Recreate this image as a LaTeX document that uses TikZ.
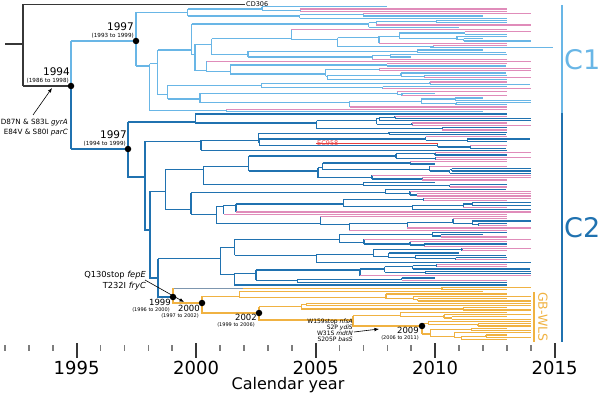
\documentclass[tikz,border=0pt]{standalone}
\usepackage{fontspec}
\setmainfont{DejaVu Sans}
\usetikzlibrary{arrows.meta}
\definecolor{cone}{RGB}{105,182,230}
\definecolor{ctwo}{RGB}{32,114,176}
\definecolor{cpink}{RGB}{224,140,186}
\definecolor{corange}{RGB}{240,178,66}
\definecolor{cred}{RGB}{232,64,64}
\definecolor{cblk}{RGB}{55,55,55}
\definecolor{cbg}{RGB}{125,150,175}
\definecolor{ctick}{RGB}{125,125,125}
\newcommand\fsz[1]{\fontsize{#1}{#1}\selectfont}
\newcommand\ysp{2.28}
\newcommand\yzero{4.5}
\tikzset{
  tree/.style={line width=1.25pt},
  dotnode/.style={circle,fill=black,inner sep=0pt,minimum size=6.5pt},
  yrbig/.style={anchor=east,inner sep=0pt,font=\fsz{10.5}},
  cibig/.style={anchor=east,inner sep=0pt,font=\fsz{5.6}},
  yrsmall/.style={anchor=east,inner sep=0pt,font=\fsz{8.5}},
  cismall/.style={anchor=east,inner sep=0pt,font=\fsz{5}},
  mutbig/.style={anchor=east,inner sep=0pt,font=\fsz{7.2}},
  mutmid/.style={anchor=east,inner sep=0pt,font=\fsz{8.3}},
  mutsmall/.style={anchor=east,inner sep=0pt,font=\fsz{6}},
  pointer/.style={line width=0.6pt,-{Latex[length=4.5pt,width=3.6pt]}},
  minortick/.style={ctick,line width=1.6pt},
  majortick/.style={cblk,line width=2pt},
}
% leaf of the random tree
\newcommand\cleaf{%
 \ifnum\clLO=61\relax
   \draw[tree,draw=cred] (\clPX,\clY) -- (316,\clY) node[anchor=west,inner sep=0.6pt,text=cred,font=\fsz{6.5}] (ec958) {EC958};
 \else
   \pgfmathsetmacro\clR{rnd}%
   \ifdim\clR pt<\clPink pt\relax
     \pgfmathsetmacro\clTX{rnd<0.55?507:531}%
     \def\clCol{cpink}%
   \else
     \pgfmathsetmacro\clTX{rnd<0.45?(rnd<0.6?507:531):(\clYrLo+23.9*floor(rnd*\clYrN))}%
     \pgfmathsetmacro\clLim{\clPX+12}%
     \ifdim\clTX pt<\clLim pt\relax\pgfmathsetmacro\clTX{rnd<0.5?507:531}\fi
     \let\clCol\clBase
   \fi
   \draw[tree,draw=\clCol] (\clPX,\clY) -- (\clTX,\clY);
 \fi}
% random clade: parent x, first leaf index, last leaf index
\newcommand\clade[3]{%
 \begingroup
 \edef\clPX{#1}\edef\clLO{#2}\edef\clHI{#3}%
 \pgfmathsetmacro\clY{\yzero+\ysp*(\clLO+\clHI)/2}%
 \ifnum\clLO=\clHI\relax
   \cleaf
 \else
   \pgfmathtruncatemacro\clN{\clHI-\clLO+1}%
   \pgfmathsetmacro\clNX{\clPX+(\clTmax-\clPX)*rnd*min(0.85,1.8/pow(\clN,0.7))}%
   \pgfmathtruncatemacro\clM{min(\clHI-1,\clLO+floor(rnd*(\clHI-\clLO)))}%
   \pgfmathtruncatemacro\clMp{\clM+1}%
   \pgfmathsetmacro\clYa{\yzero+\ysp*(\clLO+\clM)/2}%
   \pgfmathsetmacro\clYb{\yzero+\ysp*(\clMp+\clHI)/2}%
   \draw[tree,draw=\clBase] (\clPX,\clY) -- (\clNX,\clY) (\clNX,\clYa) -- (\clNX,\clYb);
   \clade{\clNX}{\clLO}{\clM}%
   \clade{\clNX}{\clMp}{\clHI}%
 \fi
 \endgroup}
\newcommand\setblue[2]{\def\clBase{#1}\def\clPink{#2}\def\clTmax{480}\def\clYrLo{363}\def\clYrN{8}}
\newcommand\setorange{\def\clBase{corange}\def\clPink{0}\def\clTmax{495}\def\clYrLo{483}\def\clYrN{3}}
\begin{document}
\begin{tikzpicture}[x=1pt,y=-1pt]
\useasboundingbox (0,0) rectangle (600,393);
\pgfmathsetseed{4242}
% ---------- root and backbone
\draw[tree,cblk] (5,44) -- (23,44);
\draw[tree,cblk] (23,4.5) -- (23,86);
\draw[tree,cblk] (23,4.5) -- (245,4.5) node[anchor=west,inner sep=0.6pt,text=black,font=\fsz{6.5}] (cd306) {CD306};
\draw[tree,cblk] (23,86) -- (71,86);
\draw[tree,cone] (71,41) -- (71,86);
\draw[tree,ctwo] (71,86) -- (71,149);
\draw[tree,cone] (71,41) -- (136,41);
\draw[tree,ctwo] (71,149) -- (128,149);
% ---------- C1
\draw[tree,cone] (136,12.48) -- (136,66.06);
\setblue{cone}{0.4}
\clade{136}{1}{6}
\clade{136}{7}{47}
\draw[tree,cone] (430,47.5) -- (553,47.5);
% ---------- C2
\setblue{ctwo}{0.55}
\draw[tree,ctwo] (128,121.92) -- (128,177) -- (145,177);
\clade{128}{48}{55}
\draw[tree,ctwo] (145,141.3) -- (145,230) -- (150,230);
\clade{145}{56}{64}
\draw[tree,ctwo] (150,191.46) -- (150,278) -- (158,278);
\clade{150}{65}{99}
\draw[tree,ctwo] (158,258.72) -- (158,297) -- (173,297);
\clade{158}{100}{123}
% ---------- GB-WLS
\setorange
\draw[tree,cbg] (173,288.36) -- (243,288.36);
\clade{243}{124}{125}
\draw[tree,corange] (173,288.36) -- (173,303) -- (202,303);
\draw[tree,corange] (202,296.34) -- (202,313) -- (259,313);
\clade{202}{126}{130}
\draw[tree,corange] (259,306.6) -- (259,320) -- (353,320);
\clade{259}{131}{134}
\draw[tree,corange] (353,315.72) -- (353,326) -- (422,326);
\clade{353}{135}{138}
\draw[tree,corange] (422,323.7) -- (422,334);
\clade{422}{139}{141}
\clade{422}{142}{147}
% ---------- dated nodes
\node[dotnode] (d1994) at (71,86) {};
\node[dotnode] (d1997a) at (136,41) {};
\node[dotnode] (d1997b) at (128,149) {};
\node[dotnode] (d1999) at (173,297) {};
\node[dotnode] (d2000) at (202,303) {};
\node[dotnode] (d2002) at (259,313) {};
\node[dotnode] (d2009) at (422,326) {};
\node[yrbig] (l1997a) at (134,27) {1997};
\node[cibig] (c1997a) at (134,35.8) {(1993 to 1999)};
\node[yrbig] (l1994) at (70,72) {1994};
\node[cibig] (c1994) at (69,81) {(1986 to 1998)};
\node[yrbig] (l1997b) at (127,135) {1997};
\node[cibig] (c1997b) at (126,144) {(1994 to 1999)};
\node[yrsmall] (l1999) at (171,302.5) {1999};
\node[cismall] (c1999) at (170,309.8) {(1996 to 2000)};
\node[yrsmall] (l2000) at (200,308.5) {2000};
\node[cismall] (c2000) at (199,316) {(1997 to 2002)};
\node[yrsmall] (l2002) at (257,317.5) {2002};
\node[cismall] (c2002) at (255,324.8) {(1999 to 2006)};
\node[yrsmall] (l2009) at (419,330.5) {2009};
\node[cismall] (c2009) at (419,337.8) {(2006 to 2011)};
% ---------- mutations
\node[mutbig] (m1) at (68,123) {D87N \& S83L \textit{gyrA}};
\node[mutbig] (m2) at (68,133) {E84V \& S80I \textit{parC}};
\coordinate (m1tip) at (52,88);
\draw[pointer] (33,115) -- (m1tip);
\node[mutmid] (q1) at (146,275) {Q130stop \textit{fepE}};
\node[mutmid] (q2) at (146,286) {T232I \textit{fryC}};
\coordinate (q1tip) at (184,302);
\draw[pointer] (145,280) -- (q1tip);
\node[mutsmall] (w1) at (353,322) {W159stop \textit{nfsA}};
\node[mutsmall] (w2) at (353,327.8) {S2P \textit{ydiS}};
\node[mutsmall] (w3) at (353,333.6) {W31S \textit{mdtN}};
\node[mutsmall] (w4) at (353,339.4) {S205P \textit{basS}};
\coordinate (w3tip) at (379,329);
\draw[pointer] (354,332) -- (w3tip);
% ---------- clade bars
\draw[cone,line width=2.6pt] (562,5) -- (562,113);
\draw[ctwo,line width=2.6pt] (562,113) -- (562,342);
\draw[corange,line width=2pt] (534,292) -- (534,342);
\node[anchor=west,inner sep=0pt,text=cone,font=\fsz{27}] (c1) at (564,60) {C1};
\node[anchor=west,inner sep=0pt,text=ctwo,font=\fsz{27}] (c2) at (564,228) {C2};
\node[rotate=-90,inner sep=0pt,text=corange,font=\fsz{12.5}] (gb) at (543,317) {GB-WLS};
% ---------- time axis
\foreach \yr in {1992,...,2014}{
  \pgfmathsetmacro\tx{76.6+(\yr-1995)*23.9}
  \draw[minortick] (\tx,345) -- (\tx,351);
}
\foreach \yr in {1995,2000,2005,2010,2015}{
  \pgfmathsetmacro\tx{76.6+(\yr-1995)*23.9}
  \draw[majortick] (\tx,343) -- (\tx,358);
  \node[inner sep=0pt,font=\fsz{18}] at (\tx,368) {\yr};
}
\node[inner sep=0pt,font=\fsz{16}] (xlab) at (288,385) {Calendar year};
\end{tikzpicture}
\end{document}
